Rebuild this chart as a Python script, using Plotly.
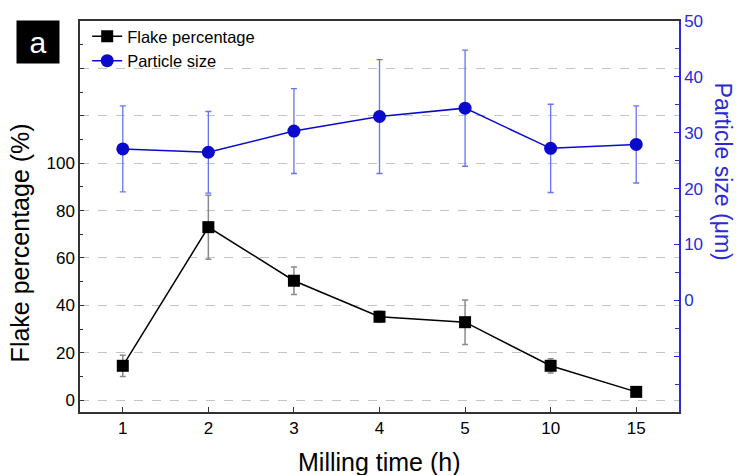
import plotly.graph_objects as go

milling_time = ["1", "2", "3", "4", "5", "10", "15"]
flake_pct = [14.5, 73.0, 50.4, 35.2, 32.9, 14.5, 3.5]
flake_err = [4.5, 13.5, 5.8, 2.3, 9.4, 3.0, 1.5]
particle_size = [27.1, 26.5, 30.3, 32.9, 34.4, 27.2, 27.9]
particle_err = [7.7, 7.3, 7.6, 10.2, 10.4, 7.9, 6.9]

left_ticks = [0, 20, 40, 60, 80, 100, 120, 140]
left_labels = ["0", "20", "40", "60", "80", "100", "", ""]
right_ticks = [-20, -10, 0, 10, 20, 30, 40, 50]
right_labels = ["", "", "0", "10", "20", "30", "40", "50"]

BLUE = "#0a0acc"
AXBLUE = "#2a2ad6"
FONT = "Arial, Liberation Sans, sans-serif"

fig = go.Figure()
fig.add_trace(go.Scatter(
    x=milling_time, y=flake_pct, name="Flake percentage", mode="lines+markers",
    line=dict(color="black", width=1.5),
    marker=dict(symbol="square", size=12, color="black"),
    error_y=dict(type="data", array=flake_err, color="#8a8a8a", thickness=1.5, width=3),
))
fig.add_trace(go.Scatter(
    x=milling_time, y=particle_size, name="Particle size", mode="lines+markers",
    yaxis="y2",
    line=dict(color=BLUE, width=1.5),
    marker=dict(symbol="circle", size=13, color=BLUE),
    error_y=dict(type="data", array=particle_err, color="#6674f2", thickness=1.3, width=3),
))

fig.update_layout(
    width=738, height=475,
    margin=dict(l=80, r=59, t=18, b=63),
    plot_bgcolor="white", paper_bgcolor="white",
    font=dict(family=FONT, size=16, color="black"),
    showlegend=True,
    legend=dict(x=0.012, y=1.005, xanchor="left", yanchor="top",
                bgcolor="rgba(0,0,0,0)", font=dict(size=16.5, color="black"),
                tracegroupgap=0, itemwidth=30),
    xaxis=dict(
        type="category", categoryorder="array", categoryarray=milling_time,
        range=[-0.5, 6.5], showgrid=False, zeroline=False,
        showline=True, linecolor="#333333", linewidth=1.5, mirror=True,
        ticks="inside", ticklen=5, tickcolor="#333333", tickwidth=1.2,
        tickfont=dict(size=17, color="black"),
    ),
    yaxis=dict(
        range=[-5, 160], tickmode="array", tickvals=left_ticks, ticktext=left_labels,
        showgrid=True, gridcolor="#c4c4c4", griddash="dash", gridwidth=1,
        zeroline=False, showline=True, linecolor="#333333", linewidth=1.5,
        ticks="inside", ticklen=4, tickcolor="#333333", tickwidth=1.2,
        minor=dict(dtick=10, tick0=0, ticks="inside", ticklen=3, tickcolor="#333333", showgrid=False),
        tickfont=dict(size=17, color="black"),
    ),
    yaxis2=dict(
        overlaying="y", side="right", range=[-20, 50],
        tickmode="array", tickvals=right_ticks, ticktext=right_labels,
        showgrid=False, zeroline=False, showline=True, linecolor=AXBLUE, linewidth=1.5,
        ticks="inside", ticklen=5, tickcolor=AXBLUE, tickwidth=1.2,
        minor=dict(dtick=5, tick0=0, ticks="inside", ticklen=4, tickcolor=AXBLUE, showgrid=False),
        tickfont=dict(size=17, color=AXBLUE),
    ),
    annotations=[
        dict(text="a", xref="paper", yref="paper", x=-0.0701, y=0.9467,
             xanchor="center", yanchor="middle", showarrow=False,
             bgcolor="black", width=40, height=40,
             font=dict(size=30, color="white", family=FONT)),
        dict(text="Flake percentage (%)", xref="paper", yref="paper",
             x=-0.100, y=0.4315, xanchor="center", yanchor="middle",
             textangle=-90, showarrow=False, font=dict(size=25, color="black")),
        dict(text="Particle size (μm)", xref="paper", yref="paper",
             x=1.074, y=0.614, xanchor="center", yanchor="middle",
             textangle=90, showarrow=False, font=dict(size=23, color=AXBLUE)),
        dict(text="Milling time (h)", xref="paper", yref="paper",
             x=0.5, y=-0.127, xanchor="center", yanchor="middle",
             showarrow=False, font=dict(size=25, color="black")),
    ],
)

fig.write_html("out.html")
